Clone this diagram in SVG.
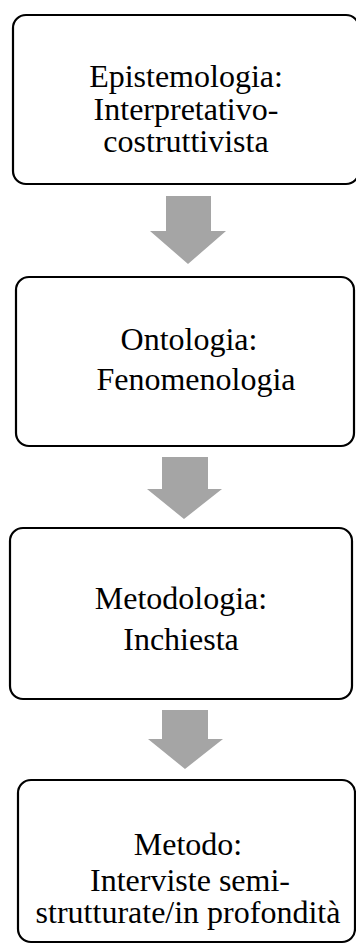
<svg xmlns="http://www.w3.org/2000/svg" width="356" height="945" viewBox="0 0 356 945">
<style>
.box{fill:#ffffff;stroke:#000000;stroke-width:2.2}
.arr{fill:#a5a5a5}
text{font-family:"Liberation Serif","Times New Roman",serif;font-size:32px;fill:#000000;text-anchor:middle}
</style>
<rect width="356" height="945" fill="#ffffff"/>
<g id="connectors">
<polygon class="arr" points="166,196 211,196 211,231 226,231 188,264 150,231 166,231"/>
<polygon class="arr" points="162,457 208,457 208,489 222,489 184,519 147,489 162,489"/>
<polygon class="arr" points="162,710 208,710 208,739 223,739 185,769 148,739 162,739"/>
</g>
<g id="node1">
<rect class="box" x="13" y="15" width="346" height="169" rx="13"/>
<text><tspan x="186" y="87">Epistemologia:</tspan><tspan x="186" y="120">Interpretativo-</tspan><tspan x="186" y="152">costruttivista</tspan></text>
</g>
<g id="node2">
<rect class="box" x="16" y="277" width="338" height="169" rx="13"/>
<text><tspan x="189" y="350">Ontologia:</tspan><tspan x="196" y="390">Fenomenologia</tspan></text>
</g>
<g id="node3">
<rect class="box" x="10" y="528" width="342" height="171" rx="13"/>
<text><tspan x="181" y="609">Metodologia:</tspan><tspan x="181" y="650">Inchiesta</tspan></text>
</g>
<g id="node4">
<rect class="box" x="18" y="780" width="337" height="162" rx="13"/>
<text><tspan x="188" y="855">Metodo:</tspan><tspan x="190" y="891">Interviste semi-</tspan><tspan x="188" y="923">strutturate/in profondità</tspan></text>
</g>
</svg>
